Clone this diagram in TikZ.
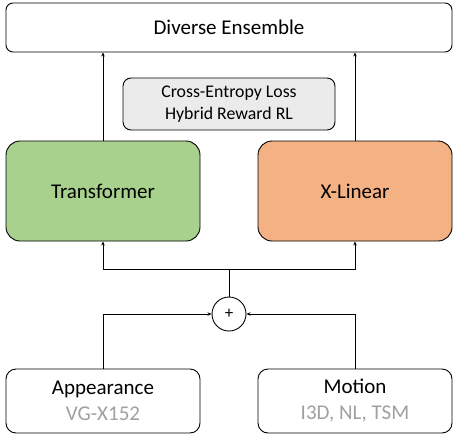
\documentclass[tikz,border=0pt]{standalone}
\usepackage{fontspec}
\setmainfont{Carlito}
\usetikzlibrary{arrows.meta}
\definecolor{greenbox}{HTML}{A9D18E}
\definecolor{orangebox}{HTML}{F4B183}
\definecolor{graybox}{HTML}{EBEBEB}
\definecolor{graytext}{HTML}{A0A0A0}
\begin{document}
\begin{tikzpicture}[x=1pt,y=-1pt,
  box/.style={draw=black, line width=0.9pt, rectangle, rounded corners=#1, align=center, inner sep=0pt},
  box/.default=10pt,
  conn/.style={line width=1pt, -{Stealth[length=4pt,width=3.5pt]}},
  plain/.style={line width=1pt}]
\useasboundingbox (0,0) rectangle (460,439);
\node[box=7pt, minimum width=446pt, minimum height=49pt, font=\fontsize{21}{25}\selectfont] (ens) at (229,27.5) {Diverse Ensemble};
\node[box=8pt, fill=graybox, minimum width=212pt, minimum height=52pt, font=\fontsize{17.8}{22}\selectfont] (loss) at (229,104) {Cross-Entropy Loss\\Hybrid Reward RL};
\node[box=14pt, fill=greenbox, minimum width=194pt, minimum height=100pt, font=\fontsize{21}{25}\selectfont] (trans) at (103,191) {Transformer};
\node[box=14pt, fill=orangebox, minimum width=194pt, minimum height=100pt, font=\fontsize{21}{25}\selectfont] (xlin) at (355,191) {X-Linear};
\node[draw=black, line width=0.9pt, circle, minimum size=34pt, inner sep=0pt, font=\fontsize{17}{18}\selectfont] (plus) at (229,314) {+};
\node[box=10pt, minimum width=194pt, minimum height=64pt, font=\fontsize{21}{26}\selectfont] (app) at (103,401) {Appearance\\\textcolor{graytext}{VG-X152}};
\node[box=10pt, minimum width=194pt, minimum height=64pt, font=\fontsize{21}{26}\selectfont] (mot) at (355,401) {Motion\\\textcolor{graytext}{I3D, NL, TSM}};
\coordinate (j) at (229,269);
\draw[conn] (trans.north) -- (trans.north |- ens.south);
\draw[conn] (xlin.north) -- (xlin.north |- ens.south);
\draw[plain] (plus.north) -- (j);
\draw[conn] (j) -| (trans.south);
\draw[conn] (j) -| (xlin.south);
\draw[conn] (app.north) |- (plus.west);
\draw[conn] (mot.north) |- (plus.east);
\end{tikzpicture}
\end{document}
